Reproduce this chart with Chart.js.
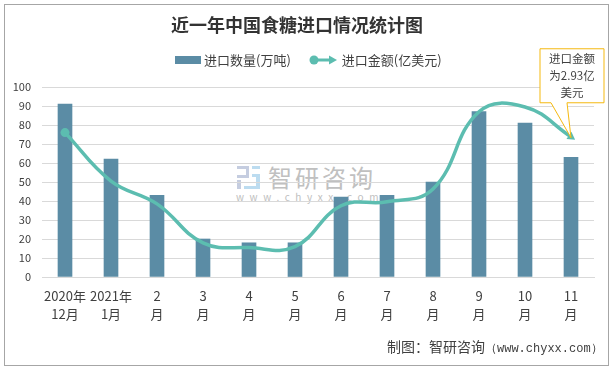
<!DOCTYPE html>
<html>
<head>
<meta charset="utf-8">
<title>近一年中国食糖进口情况统计图</title>
<script src="https://cdn.jsdelivr.net/npm/chart.js@4"></script>
<style>
  html, body { margin: 0; padding: 0; background: #fff; }
  #wrap { position: relative; width: 613px; height: 369px; overflow: hidden; font-family: "Noto Sans CJK SC", sans-serif; color: #404040; }
  #frame { position: absolute; left: 4px; top: 4px; width: 603px; height: 360px; border: 1px solid #a6a6a6; }
  #chart { position: absolute; left: 0; top: 0; }
  #legend { position: absolute; left: 175px; top: 51px; font-size: 13px; line-height: 18px; display: flex; align-items: center; white-space: nowrap; }
  #legend .sw { display: inline-block; width: 26px; height: 8px; background: #5b8ca5; margin-right: 3px; }
  #legend svg { margin: 0 5px 0 18px; }
  #wm { position: absolute; left: 236px; top: 160px; width: 146px; height: 46px; color: #c0c0c0; }
  #wm svg { position: absolute; left: 0; top: 5px; }
  #wm .n { position: absolute; left: 32px; top: 0; font-size: 24px; line-height: 34px; letter-spacing: 3px; white-space: nowrap; }
  #wm .u { position: absolute; left: 0; top: 31px; font-size: 10px; line-height: 12px; letter-spacing: 5.6px; white-space: nowrap; }
  #source { position: absolute; left: 387px; top: 336px; font-size: 14px; line-height: 20px; white-space: nowrap; color: #404040; }
  #source span { font-family: "Liberation Mono", monospace; font-size: 12px; }
</style>
</head>
<body>
<div id="wrap">
  <div id="frame"></div>
  <div id="wm">
    <svg width="25" height="25" viewBox="0 0 25 25">
      <rect x="1" y="1" width="12" height="3" fill="#c5cde0"/>
      <rect x="1" y="10" width="12" height="3" fill="#c5cde0"/>
      <rect x="10" y="1" width="3" height="12" fill="#c5cde0"/>
      <rect x="1" y="15" width="4" height="9" fill="#c5cde0"/>
      <rect x="16" y="1" width="8" height="3" fill="#bcdcf0"/>
      <rect x="16" y="9" width="8" height="3" fill="#bcdcf0"/>
      <rect x="20" y="9" width="4" height="12" fill="#bcdcf0"/>
      <rect x="8" y="21" width="16" height="3" fill="#bcdcf0"/>
    </svg>
    <div class="n">智研咨询</div>
    <div class="u">www.chyxx.com</div>
  </div>
  <canvas id="chart" width="613" height="369"></canvas>
  <div id="legend">
    <i class="sw"></i>进口数量(万吨)
    <svg width="28" height="12" viewBox="0 0 28 12">
      <line x1="4" y1="6" x2="22" y2="6" stroke="#5cbdb0" stroke-width="3"/>
      <circle cx="5" cy="6" r="4.5" fill="#5cbdb0"/>
      <path d="M20 1.5 L28 6 L20 10.5 Z" fill="#5cbdb0"/>
    </svg>
    进口金额(亿美元)
  </div>
  <div id="source">制图：智研咨询<span>（www.chyxx.com）</span></div>
</div>
<script>
const categories = [['2020年', '12月'], ['2021年', '1月'], ['2', '月'], ['3', '月'], ['4', '月'], ['5', '月'],
    ['6', '月'], ['7', '月'], ['8', '月'], ['9', '月'], ['10', '月'], ['11', '月']];
const quantityValues = [91, 62, 43, 20, 18, 18, 42, 43, 50, 87, 81, 63];
const amountValues = [76, 50.5, 38.5, 18, 15.5, 16, 37.5, 39.6, 46.3, 87, 89.5, 73.8];
const yTicks = [0, 10, 20, 30, 40, 50, 60, 70, 80, 90, 100];
const calloutLines = ['进口金额', '为2.93亿', '美元'];

const fontFamily = '"Noto Sans CJK SC", sans-serif';
const textColor = '#404040';
const lineColor = '#5cbdb0';
const lastIndex = amountValues.length - 1;

// Yellow callout pointing at the last point of the line
const calloutPlugin = {
    id: 'callout',
    afterDraw(chart) {
        const ctx = chart.ctx;
        const tipX = chart.scales.x.getPixelForValue(lastIndex);
        const tipY = chart.scales.y.getPixelForValue(amountValues[lastIndex]) + 1;
        const left = tipX - 31, top = tipY - 89, w = 64, h = 54;
        ctx.save();
        ctx.beginPath();
        ctx.moveTo(left, top);
        ctx.lineTo(left + w, top);
        ctx.lineTo(left + w, top + h);
        ctx.lineTo(tipX - 4, top + h);
        ctx.lineTo(tipX, tipY);
        ctx.lineTo(tipX - 20, top + h);
        ctx.lineTo(left, top + h);
        ctx.closePath();
        ctx.fillStyle = '#fff';
        ctx.fill();
        ctx.strokeStyle = '#f5b90f';
        ctx.lineWidth = 1;
        ctx.stroke();
        ctx.fillStyle = textColor;
        ctx.font = '11.5px ' + fontFamily;
        ctx.textAlign = 'center';
        ctx.textBaseline = 'middle';
        calloutLines.forEach((line, i) => {
            ctx.fillText(line, left + w / 2, top + 10 + i * 17);
        });
        ctx.restore();
    }
};

new Chart(document.getElementById('chart'), {
    type: 'bar',
    data: {
        labels: categories,
        datasets: [
            {
                type: 'line',
                label: '进口金额(亿美元)',
                data: amountValues,
                borderColor: lineColor,
                backgroundColor: lineColor,
                borderWidth: 3.5,
                tension: 0.42,
                pointRadius: amountValues.map((v, i) => (i === 0 ? 4.5 : i === lastIndex ? 5 : 0)),
                pointStyle: amountValues.map((v, i) => (i === lastIndex ? 'triangle' : 'circle')),
                pointRotation: amountValues.map((v, i) => (i === lastIndex ? 125 : 0)),
                pointBorderWidth: 0,
                order: 1
            },
            {
                label: '进口数量(万吨)',
                data: quantityValues,
                backgroundColor: '#5b8ca5',
                barThickness: 14,
                order: 2
            }
        ]
    },
    options: {
        responsive: false,
        animation: false,
        layout: { padding: { top: 0, right: 19, left: 0, bottom: 0 } },
        plugins: {
            legend: { display: false },
            tooltip: { enabled: false },
            title: {
                display: true,
                text: '近一年中国食糖进口情况统计图',
                color: '#333333',
                font: { family: fontFamily, size: 18, weight: 'bold', lineHeight: 1.2 },
                padding: { top: 14, bottom: 51.4 }
            }
        },
        scales: {
            x: {
                grid: { display: false, drawTicks: false },
                border: { color: '#d9d9d9' },
                ticks: {
                    color: textColor,
                    font: { family: fontFamily, size: 13, lineHeight: 1.4 },
                    padding: 10,
                    maxRotation: 0,
                    minRotation: 0,
                    autoSkip: false
                },
                afterFit(scale) { scale.height = 92; }
            },
            y: {
                min: 0,
                max: 100,
                afterBuildTicks(scale) { scale.ticks = yTicks.map(v => ({ value: v })); },
                grid: { color: '#d9d9d9', drawTicks: false },
                border: { display: false },
                ticks: {
                    color: textColor,
                    font: { family: fontFamily, size: 11 },
                    padding: 11
                },
                afterFit(scale) { scale.width = 42; }
            }
        }
    },
    plugins: [calloutPlugin]
});
</script>
</body>
</html>
